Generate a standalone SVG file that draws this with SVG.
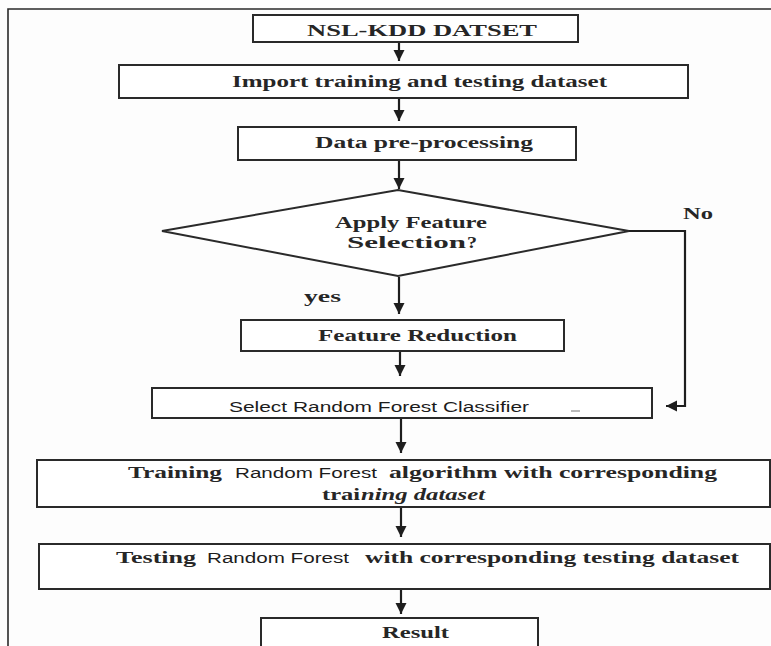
<svg xmlns="http://www.w3.org/2000/svg" width="771" height="646" viewBox="0 0 771 646">
<defs>
<marker id="ah" viewBox="0 0 10 10" markerWidth="11" markerHeight="12" refX="10" refY="5" orient="auto" markerUnits="userSpaceOnUse">
<path d="M0,0 L10,5 L0,10 z" fill="#1e1e1e"/>
</marker>
<style>
.box{fill:#ffffff;stroke:#2a2a2a;stroke-width:2}
.con{fill:none;stroke:#1e1e1e;stroke-width:2.2;marker-end:url(#ah)}
.t{font-family:"Liberation Serif","Times New Roman",serif;font-weight:bold;fill:#262626;font-size:17px}
.s{font-family:"Liberation Sans",Arial,sans-serif;fill:#1c1c1c;font-size:14px}
.frame{stroke:#2a2a2a;stroke-width:1.6;fill:none}
</style>
</defs>
<rect x="0" y="0" width="771" height="646" fill="#fdfdfd"/>
<path class="frame" d="M8,646 L8,9 L771,9"/>

<g id="connectors">
<line class="con" x1="399" y1="42" x2="399" y2="61"/>
<line class="con" x1="399" y1="98" x2="399" y2="121"/>
<line class="con" x1="399" y1="160" x2="399" y2="189"/>
<line class="con" x1="399" y1="277" x2="399" y2="314"/>
<line class="con" x1="400" y1="351" x2="400" y2="376"/>
<polyline class="con" points="629,231 685,231 685,406 666,406"/>
<line class="con" x1="401" y1="418" x2="401" y2="453"/>
<line class="con" x1="401" y1="507" x2="401" y2="537"/>
<line class="con" x1="401" y1="590" x2="401" y2="614"/>
<text class="t" x="304" y="302" font-size="16" textLength="37" lengthAdjust="spacingAndGlyphs">yes</text>
<text class="t" x="683" y="219" font-size="16" textLength="30" lengthAdjust="spacingAndGlyphs">No</text>
</g>

<g id="n1">
<rect class="box" x="253" y="15" width="325" height="27"/>
<text class="t" x="307" y="36" font-size="18" textLength="230" lengthAdjust="spacingAndGlyphs">NSL-KDD DATSET</text>
</g>
<g id="n2">
<rect class="box" x="119" y="65" width="569" height="33"/>
<text class="t" x="232" y="87" textLength="375" lengthAdjust="spacingAndGlyphs">Import training and testing dataset</text>
</g>
<g id="n3">
<rect class="box" x="238" y="127" width="338" height="33"/>
<text class="t" x="315" y="148" textLength="218" lengthAdjust="spacingAndGlyphs">Data pre-processing</text>
</g>
<g id="n4">
<polygon class="box" points="162,231 398,190 629,231 398,276"/>
<text class="t" x="335" y="228" textLength="152" lengthAdjust="spacingAndGlyphs">Apply Feature</text>
<text class="t" x="347" y="248" font-size="20" textLength="119" lengthAdjust="spacingAndGlyphs">Selection</text>
<text class="t" x="467" y="248" font-size="14" textLength="10" lengthAdjust="spacingAndGlyphs">?</text>
</g>
<g id="n5">
<rect class="box" x="241" y="320" width="323" height="31"/>
<text class="t" x="318" y="341" textLength="199" lengthAdjust="spacingAndGlyphs">Feature Reduction</text>
</g>
<g id="n6">
<rect class="box" x="152" y="388" width="500" height="30"/>
<text class="s" x="229" y="412" textLength="300" lengthAdjust="spacingAndGlyphs">Select  Random Forest Classifier</text>
<line x1="571" y1="411" x2="580" y2="411" stroke="#777" stroke-width="1"/>
</g>
<g id="n7">
<rect class="box" x="37" y="460" width="733" height="47"/>
<text class="t" x="128" y="478" textLength="94" lengthAdjust="spacingAndGlyphs">Training</text>
<text class="s" x="235" y="478" textLength="142" lengthAdjust="spacingAndGlyphs">Random Forest</text>
<text class="t" x="389" y="478" textLength="328" lengthAdjust="spacingAndGlyphs">algorithm with corresponding</text>
<text class="t" x="322" y="500" font-size="16" textLength="38" lengthAdjust="spacingAndGlyphs">trai</text>
<text class="t" x="361" y="500" font-size="16" font-style="italic" textLength="124" lengthAdjust="spacingAndGlyphs">ning dataset</text>
</g>
<g id="n8">
<rect class="box" x="39" y="544" width="731" height="45"/>
<text class="t" x="116" y="563" textLength="80" lengthAdjust="spacingAndGlyphs">Testing</text>
<text class="s" x="207" y="563" textLength="142" lengthAdjust="spacingAndGlyphs">Random Forest</text>
<text class="t" x="365" y="563" textLength="374" lengthAdjust="spacingAndGlyphs">with corresponding testing dataset</text>
</g>
<g id="n9">
<rect class="box" x="261" y="618" width="277" height="40"/>
<text class="t" x="382" y="638" textLength="67" lengthAdjust="spacingAndGlyphs">Result</text>
</g>
</svg>
